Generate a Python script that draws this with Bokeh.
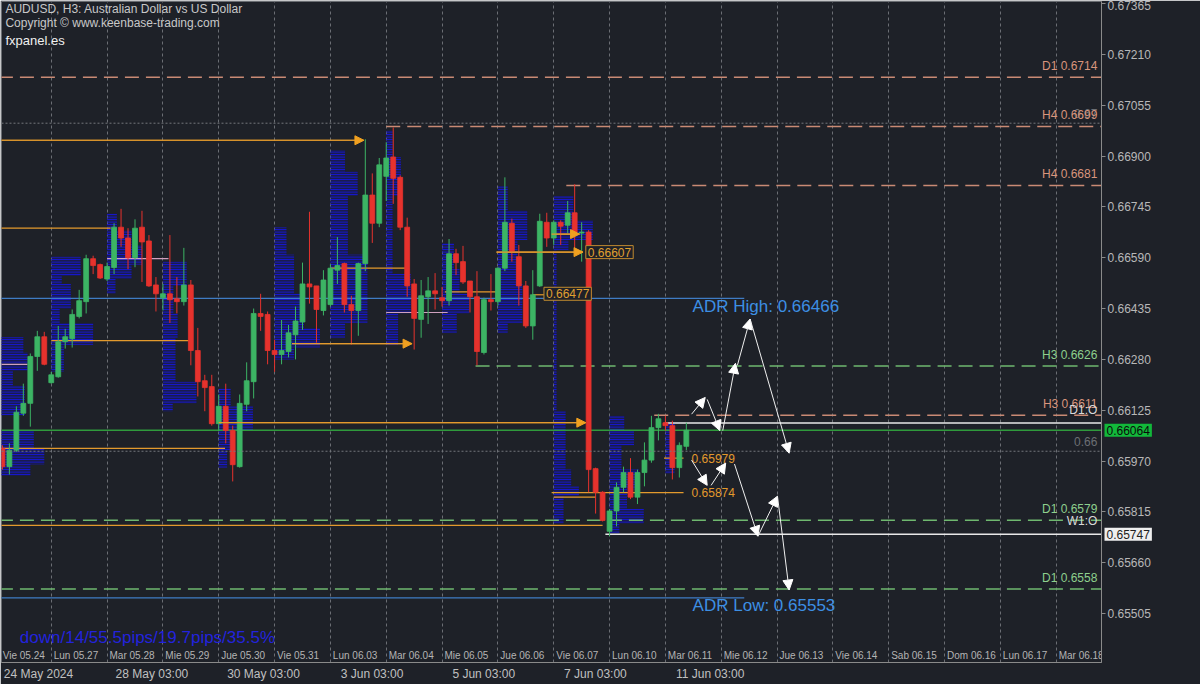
from bokeh.plotting import figure
from bokeh.models import (Range1d, FixedTicker, PrintfTickFormatter, Label, Arrow,
                          NormalHead, ColumnDataSource, Span)
from bokeh.core.properties import value
from bokeh.embed import file_html
from bokeh.resources import INLINE

FONT = value("Liberation Sans")
BG = "#1e2128"

# ---------------- data ----------------
bar_index = list(range(-7, 92))
opens = [0.66009, 0.65953, 0.66003, 0.66116, 0.66146, 0.66289, 0.66349,
         0.66209, 0.66227, 0.66334, 0.66343, 0.66411, 0.66456, 0.66587, 0.66569,
         0.66525, 0.66560, 0.66683, 0.66650, 0.66590, 0.66683, 0.66641, 0.66507,
         0.66468, 0.66480, 0.66465, 0.66456, 0.66507, 0.66307, 0.66215, 0.66197,
         0.66084, 0.66137, 0.66063, 0.65953, 0.66143, 0.66212, 0.66420, 0.66417,
         0.66307, 0.66295, 0.66304, 0.66355, 0.66394, 0.66510, 0.66504, 0.66429,
         0.66447, 0.66552, 0.66572, 0.66447, 0.66429, 0.66572, 0.66781, 0.66695,
         0.66838, 0.66897, 0.66835, 0.66683, 0.66510, 0.66402, 0.66471, 0.66489,
         0.66468, 0.66459, 0.66602, 0.66578, 0.66519, 0.66471, 0.66301, 0.66462,
         0.66456, 0.66558, 0.66695, 0.66593, 0.66504, 0.66382, 0.66504, 0.66698,
         0.66650, 0.66698, 0.66689, 0.66727, 0.66665, 0.66668, 0.65947, 0.65875,
         0.65756, 0.65818, 0.65890, 0.65935, 0.65860, 0.65935, 0.65973, 0.66072,
         0.66087, 0.66078, 0.65950, 0.66015]
highs = [0.66018, 0.66024, 0.66137, 0.66206, 0.66298, 0.66367, 0.66364,
         0.66242, 0.66382, 0.66373, 0.66432, 0.66492, 0.66599, 0.66596, 0.66572,
         0.66575, 0.66695, 0.66739, 0.66680, 0.66707, 0.66733, 0.66659, 0.66531,
         0.66510, 0.66659, 0.66531, 0.66620, 0.66522, 0.66376, 0.66233, 0.66233,
         0.66173, 0.66206, 0.66078, 0.66173, 0.66271, 0.66435, 0.66480, 0.66426,
         0.66340, 0.66400, 0.66385, 0.66441, 0.66575, 0.66730, 0.66504, 0.66552,
         0.66570, 0.66653, 0.66575, 0.66474, 0.66575, 0.66951, 0.66847, 0.66894,
         0.66942, 0.66987, 0.66841, 0.66712, 0.66525, 0.66522, 0.66531, 0.66543,
         0.66501, 0.66647, 0.66617, 0.66626, 0.66519, 0.66549, 0.66468, 0.66540,
         0.66561, 0.66835, 0.66709, 0.66629, 0.66519, 0.66552, 0.66724, 0.66727,
         0.66704, 0.66704, 0.66763, 0.66814, 0.66698, 0.66674, 0.65950, 0.65878,
         0.65824, 0.65905, 0.65953, 0.65979, 0.65944, 0.66027, 0.66108, 0.66114,
         0.66108, 0.66093, 0.66027, 0.66087]
lows = [0.65944, 0.65929, 0.65998, 0.66108, 0.66075, 0.66245, 0.66262,
        0.66206, 0.66224, 0.66313, 0.66316, 0.66405, 0.66420, 0.66540, 0.66525,
        0.66519, 0.66540, 0.66623, 0.66555, 0.66561, 0.66516, 0.66501, 0.66426,
        0.66429, 0.66391, 0.66420, 0.66444, 0.66262, 0.66167, 0.66122, 0.66078,
        0.66063, 0.66024, 0.65908, 0.65950, 0.66122, 0.66161, 0.66367, 0.66265,
        0.66242, 0.66265, 0.66286, 0.66280, 0.66370, 0.66450, 0.66331, 0.66414,
        0.66441, 0.66510, 0.66423, 0.66325, 0.66352, 0.66549, 0.66635, 0.66683,
        0.66763, 0.66754, 0.66674, 0.66471, 0.66310, 0.66346, 0.66388, 0.66432,
        0.66441, 0.66444, 0.66537, 0.66510, 0.66423, 0.66262, 0.66295, 0.66429,
        0.66444, 0.66549, 0.66578, 0.66444, 0.66376, 0.66340, 0.66501, 0.66623,
        0.66629, 0.66629, 0.66665, 0.66620, 0.66578, 0.65875, 0.65810, 0.65786,
        0.65741, 0.65771, 0.65875, 0.65854, 0.65839, 0.65893, 0.65965, 0.66033,
        0.66063, 0.65914, 0.65920, 0.66003]
closes = [0.65953, 0.66003, 0.66119, 0.66146, 0.66289, 0.66349, 0.66265,
          0.66233, 0.66334, 0.66349, 0.66417, 0.66459, 0.66587, 0.66566, 0.66528,
          0.66563, 0.66683, 0.66650, 0.66590, 0.66680, 0.66638, 0.66504, 0.66480,
          0.66480, 0.66462, 0.66456, 0.66507, 0.66307, 0.66212, 0.66194, 0.66084,
          0.66137, 0.66063, 0.65959, 0.66146, 0.66215, 0.66420, 0.66411, 0.66307,
          0.66295, 0.66307, 0.66361, 0.66397, 0.66510, 0.66501, 0.66432, 0.66522,
          0.66558, 0.66566, 0.66447, 0.66429, 0.66572, 0.66781, 0.66695, 0.66873,
          0.66894, 0.66832, 0.66683, 0.66504, 0.66405, 0.66474, 0.66489, 0.66480,
          0.66459, 0.66602, 0.66575, 0.66516, 0.66471, 0.66304, 0.66462, 0.66456,
          0.66558, 0.66698, 0.66608, 0.66504, 0.66382, 0.66477, 0.66701, 0.66650,
          0.66698, 0.66686, 0.66727, 0.66668, 0.66668, 0.65944, 0.65875, 0.65789,
          0.65818, 0.65890, 0.65935, 0.65860, 0.65935, 0.65973, 0.66072, 0.66099,
          0.66078, 0.65950, 0.66018, 0.66064]

day_starts = [-8, 0, 8, 16, 24, 32, 40, 48, 56, 64, 72, 80, 88, 96, 104,
              112, 120, 128, 136, 144]
day_labels = ["Vie 05.24", "Lun 05.27", "Mar 05.28", "Mie 05.29", "Jue 05.30",
              "Vie 05.31", "Lun 06.03", "Mar 06.04", "Mie 06.05", "Jue 06.06",
              "Vie 06.07", "Lun 06.10", "Mar 06.11", "Mie 06.12", "Jue 06.13",
              "Vie 06.14", "Sab 06.15", "Dom 06.16", "Lun 06.17", "Mar 06.18"]

time_tick_bars = [-6.8, 9, 25, 41, 57, 73, 89]
time_tick_labels = ["24 May 2024", "28 May 03:00", "30 May 03:00", "3 Jun 03:00",
                    "5 Jun 03:00", "7 Jun 03:00", "11 Jun 03:00"]

price_ticks = [0.67365, 0.67210, 0.67055, 0.66900, 0.66745, 0.66590, 0.66435,
               0.66280, 0.66125, 0.65970, 0.65815, 0.65660, 0.65505]

# volume profiles per day: (day start, price top, price bottom, length in bars)
prof_day = [-8, -8, -8, -8, -8, -8, -8,
            0, 0, 0, 0, 0, 0,
            8, 8, 8, 8, 8,
            16, 16, 16, 16, 16, 16,
            24, 24, 24, 24,
            32, 32, 32, 32, 32,
            40, 40, 40, 40, 40,
            48, 48, 48, 48, 48,
            56, 56, 56, 56,
            64, 64, 64, 64, 64,
            72, 72, 72, 72, 72, 72, 72, 72,
            80, 80, 80, 80, 80, 80, 80,
            88]
prof_top = [0.66348, 0.66300, 0.66245, 0.66200, 0.66063, 0.66010, 0.65960,
            0.66593, 0.66534, 0.66510, 0.66435, 0.66391, 0.66325,
            0.66724, 0.66674, 0.66629, 0.66569, 0.66525,
            0.66578, 0.66504, 0.66420, 0.66346, 0.66212, 0.66146,
            0.66191, 0.66137, 0.66063, 0.66003,
            0.66683, 0.66599, 0.66480, 0.66376, 0.66316,
            0.66918, 0.66852, 0.66778, 0.66599, 0.66391,
            0.66978, 0.66897, 0.66778, 0.66540, 0.66420,
            0.66635, 0.66555, 0.66480, 0.66420,
            0.66808, 0.66733, 0.66644, 0.66510, 0.66391,
            0.66778, 0.66704, 0.66644, 0.66614, 0.66122, 0.65944, 0.65893, 0.65863,
            0.66108, 0.66063, 0.66018, 0.65944, 0.65884, 0.65824, 0.65780,
            0.66084]
prof_bottom = [0.66300, 0.66245, 0.66200, 0.66110, 0.66010, 0.65960, 0.65925,
               0.66534, 0.66510, 0.66435, 0.66391, 0.66325, 0.66242,
               0.66674, 0.66629, 0.66569, 0.66525, 0.66480,
               0.66504, 0.66420, 0.66346, 0.66212, 0.66146, 0.66122,
               0.66137, 0.66063, 0.66003, 0.65950,
               0.66599, 0.66480, 0.66376, 0.66316, 0.66280,
               0.66852, 0.66778, 0.66599, 0.66391, 0.66346,
               0.66897, 0.66778, 0.66540, 0.66420, 0.66325,
               0.66555, 0.66480, 0.66420, 0.66361,
               0.66733, 0.66644, 0.66510, 0.66391, 0.66361,
               0.66704, 0.66644, 0.66614, 0.66122, 0.65944, 0.65893, 0.65863, 0.65780,
               0.66063, 0.66018, 0.65944, 0.65884, 0.65824, 0.65780, 0.65750,
               0.65932]
prof_len = [4.0, 4.6, 2.5, 4.2, 5.5, 7.0, 5.0,
            4.2, 1.5, 2.8, 1.2, 6.0, 1.8,
            1.4, 3.5, 5.0, 3.5, 1.2,
            3.4, 1.5, 2.1, 1.8, 4.8, 1.4,
            1.7, 4.9, 2.1, 1.2,
            1.7, 2.8, 4.2, 6.5, 2.8,
            2.1, 3.9, 2.5, 5.3, 2.1,
            0.9, 2.1, 0.9, 3.5, 1.7,
            1.7, 2.5, 3.9, 2.1,
            1.4, 4.2, 2.8, 3.5, 1.4,
            2.8, 5.6, 2.1, 0.4, 1.7, 2.5, 3.6, 1.4,
            2.1, 3.5, 1.7, 4.2, 2.5, 4.9, 1.4,
            1.3]

# pivot levels
level_names = ["D1 0.6714", "H4 0.6699", "H4 0.6681", "H3 0.6626",
               "H3 0.6611", "D1 0.6579", "D1 0.6558"]
level_prices = [0.6714, 0.6699, 0.6681, 0.6626, 0.6611, 0.6579, 0.6558]
level_from = [-7.5, 48.0, 73.8, 60.8, 86.4, -7.5, -7.5]
level_side = ["res", "res", "res", "sup", "res", "sup", "sup"]

bid_price = 0.66064
d1_open = 0.66086
w1_open = 0.65747
adr_high = 0.66466
adr_low = 0.65553
round_levels = [0.67, 0.66]
round_names = ["0.67", "0.66"]

# orange marker lines: start bar, end bar, price, arrow flag
orange_from = [-7.5, -7.5, 8.0, 0.0, -7.5, -7.5, 24.0, 40.0, 48.0, 34.5,
               56.4, 63.8, 71.7, 69.0, 71.7, 87.8, -7.5, 72.0]
orange_to = [44.8, 8.5, 16.8, 19.7, -3.4, 24.9, 76.6, 50.8, 56.8, 51.7,
             63.8, 76.2, 75.7, 70.6, 90.6, 90.6, 79.0, 78.0]
orange_price = [0.66948, 0.66680, 0.66587, 0.66337, 0.66265, 0.66009, 0.66087,
                0.66558, 0.66423, 0.66328, 0.66486, 0.66607, 0.66662, 0.66477,
                0.65874, 0.65979, 0.65774, 0.65860]
orange_arrow = [1, 0, 0, 0, 0, 0, 1, 0, 0, 1, 0, 1, 1, 0, 0, 0, 0, 0]
orange_tint = [0, 0, 1, 0, 1, 0, 0, 0, 1, 0, 0, 0, 0, 0, 0, 0, 0, 0]

# projected path arrows (white)
path_x0 = [91.75, 93.99, 96.22, 98.32, 100.14, 91.75, 94.55, 97.90, 101.26, 104.06]
path_y0 = [0.66113, 0.66158, 0.66063, 0.66262, 0.66403, 0.65973, 0.65896,
           0.65961, 0.65741, 0.65863]
path_x1 = [93.71, 95.80, 98.04, 100.14, 105.73, 93.99, 96.64, 101.26, 104.06, 105.73]
path_y1 = [0.66164, 0.66063, 0.66268, 0.66403, 0.65994, 0.65896, 0.65964,
           0.65741, 0.65863, 0.65577]

X0, X1 = -7.13, 150.49
Y0, Y1 = 0.65356, 0.67371
FRAME_W = 1100
PX_PER_BAR = FRAME_W / (X1 - X0)

# ---------------- figure ----------------
p = figure(frame_width=FRAME_W, frame_height=661,
           x_range=Range1d(X0, X1), y_range=Range1d(Y0, Y1),
           output_backend="svg", toolbar_location=None,
           y_axis_location="right",
           min_border_left=1, min_border_top=1, min_border_right=0,
           min_border_bottom=22,
           background_fill_color=BG, border_fill_color=BG)
p.outline_line_color = "#6a6d72"

# axes
yax = p.yaxis[0]
yax.ticker = FixedTicker(ticks=price_ticks)
yax.formatter = PrintfTickFormatter(format="%.5f")
yax.axis_line_color = "#8a8a8a"
yax.major_tick_line_color = "#8a8a8a"
yax.major_tick_out = 4
yax.major_tick_in = 0
yax.minor_tick_line_color = None
yax.major_label_text_color = "#b8b8b8"
yax.major_label_text_font = "Liberation Sans"
yax.major_label_text_font_size = "12px"
yax.major_label_standoff = 2

xax = p.xaxis[0]
centers = [round(b + len(t) * 6.3 / 2 / PX_PER_BAR, 2)
           for b, t in zip(time_tick_bars, time_tick_labels)]
xax.ticker = FixedTicker(ticks=centers)
xax.major_label_overrides = {c: t for c, t in zip(centers, time_tick_labels)}
xax.axis_line_color = "#8a8a8a"
xax.major_tick_line_color = None
xax.major_tick_out = 0
xax.major_tick_in = 0
xax.minor_tick_line_color = None
xax.major_label_text_color = "#c0c0c0"
xax.major_label_text_font = "Liberation Sans"
xax.major_label_text_font_size = "12px"
xax.major_label_standoff = 4

p.xgrid.ticker = FixedTicker(ticks=day_starts)
p.xgrid.grid_line_color = "#6b6e74"
p.xgrid.grid_line_dash = "3 3"
p.ygrid.visible = False

# round-number levels
for lv in round_levels:
    p.add_layout(Span(location=lv, dimension="width", line_color="#74777c",
                      line_dash="2 2", line_width=1))
p.text(x=[149.9] * 2, y=[lv + 0.00030 for lv in round_levels], text=round_names,
       text_font=FONT, text_font_size="12px", text_color="#6c6f74",
       text_align="right", text_baseline="middle")

# volume profiles (striped)
p.quad(left=prof_day, right=[d + l for d, l in zip(prof_day, prof_len)],
       top=prof_top, bottom=prof_bottom, fill_color="#1010b0", fill_alpha=0.3,
       hatch_pattern="horizontal_line", hatch_color="#1616d8", hatch_weight=1.2,
       hatch_scale=2.5, line_color=None)

# ADR lines
p.segment(x0=[-7.5, -7.5], y0=[adr_high, adr_low], x1=[99.3, 99.3], y1=[adr_high, adr_low],
          line_color="#3f7cc4", line_width=1.2)

# pivot level lines
res_col, sup_col = "#c98a74", "#6fb86f"
lcol = [res_col if s == "res" else sup_col for s in level_side]
p.segment(x0=level_from, y0=level_prices, x1=[X1] * len(level_prices), y1=level_prices,
          line_color=lcol, line_dash="14 7", line_width=1.5)
p.text(x=[149.9] * len(level_names), y=[v + 0.00013 for v in level_prices], text=level_names,
       text_font=FONT, text_font_size="12px",
       text_color=["#d9957d" if s == "res" else "#8ed08e" for s in level_side],
       text_align="right", text_baseline="bottom")

# bid, D1 open, W1 open
p.segment(x0=[-7.5], y0=[bid_price], x1=[X1], y1=[bid_price], line_color="#2f9a3c", line_width=1.3)
p.segment(x0=[87.9, 79.4], y0=[d1_open, w1_open], x1=[X1, X1], y1=[d1_open, w1_open],
          line_color="#e8e8e8", line_width=1.5)
p.text(x=[149.9, 149.9], y=[d1_open + 0.00018, w1_open + 0.00018], text=["D1:O", "W1:O"],
       text_font=FONT, text_font_size="12px", text_color="#d8d8d8",
       text_align="right", text_baseline="bottom")

# orange lines
ocol = ["#cfa0bf" if t else "#e39a2d" for t in orange_tint]
p.segment(x0=orange_from, y0=orange_price, x1=orange_to, y1=orange_price,
          line_color=ocol, line_width=1.2)
asrc = ColumnDataSource(dict(
    x0=[a for a, f in zip(orange_from, orange_arrow) if f],
    x1=[b for b, f in zip(orange_to, orange_arrow) if f],
    y=[c for c, f in zip(orange_price, orange_arrow) if f]))
p.add_layout(Arrow(x_start="x0", y_start="y", x_end="x1", y_end="y", source=asrc,
                   line_color="#e39a2d", line_width=1.2,
                   end=NormalHead(size=9, fill_color="#f0a020", line_color="#f0a020")))

# candles
up = [c >= o for o, c in zip(opens, closes)]
ccol = ["#3cb464" if u else "#e6322d" for u in up]
src = ColumnDataSource(dict(x=bar_index, o=opens, h=highs, l=lows, c=closes,
                            top=[max(o, c) for o, c in zip(opens, closes)],
                            bot=[min(o, c) for o, c in zip(opens, closes)], col=ccol))
p.segment(x0="x", y0="l", x1="x", y1="h", source=src, line_color="col", line_width=1)
p.vbar(x="x", width=0.7, top="top", bottom="bot", source=src,
       fill_color="col", line_color="col", line_width=0.8)

# boxed price tags
for xb, yv, txt in [(76.6, 0.66607, "0.66607"), (70.6, 0.66480, "0.66477")]:
    p.add_layout(Label(x=xb, y=yv, text=txt, text_font="Liberation Sans",
                       text_font_size="12px", text_color="#e0a030",
                       text_baseline="middle", text_align="left",
                       background_fill_color=BG, border_line_color="#c08a30",
                       border_line_width=1, padding=2))

# projection labels
p.text(x=[91.75, 91.75], y=[0.65979, 0.65874], text=["0.65979", "0.65874"],
       text_font=FONT, text_font_size="12px", text_color="#e39a2d",
       text_align="left", text_baseline="middle")

# white projected path
psrc = ColumnDataSource(dict(x0=path_x0, y0=path_y0, x1=path_x1, y1=path_y1))
p.add_layout(Arrow(x_start="x0", y_start="y0", x_end="x1", y_end="y1", source=psrc,
                   line_color="#f0f0f0", line_width=1,
                   end=NormalHead(size=10, fill_color="#ffffff", line_color="#ffffff")))

# ADR texts
p.text(x=[91.9, 91.9], y=[0.66441, 0.65531], text=["ADR High: 0.66466", "ADR Low: 0.65553"],
       text_font=FONT, text_font_size="17px", text_color="#3d8fe4",
       text_align="left", text_baseline="middle")

# bottom-left statistic text
p.text(x=[-4.5], y=[0.65431], text=["down/14/55.5pips/19.7pips/35.5%"],
       text_font=FONT, text_font_size="17px", text_color="#2323dc",
       text_align="left", text_baseline="middle")

# day labels row
p.text(x=[max(d + 0.35, -6.95) for d in day_starts], y=[0.65377] * len(day_starts),
       text=day_labels, text_font=FONT, text_font_size="10px", text_color="#b4b4b4",
       text_align="left", text_baseline="middle")

# header texts
p.text(x=[-6.57, -6.57], y=[0.67347, 0.67305],
       text=["AUDUSD, H3:  Australian Dollar vs US Dollar",
             "Copyright \u00a9 www.keenbase-trading.com"],
       text_font=FONT, text_font_size="12px", text_color="#c8c8c8",
       text_align="left", text_baseline="middle")
p.text(x=[-6.57], y=[0.67252], text=["fxpanel.es"],
       text_font=FONT, text_font_size="13px", text_color="#f0f0f0",
       text_align="left", text_baseline="middle")

# price tags on the price axis (placed in the right side panel so they are not clipped)
for yv, txt, bgc, fg in [(bid_price, "0.66064", "#12b83a", "#0a0a0a"),
                         (w1_open, "0.65747", "#eeeeee", "#202020")]:
    p.add_layout(Label(x=FRAME_W + 4, x_units="canvas", y=yv, text=txt,
                       text_font="Liberation Sans", text_font_size="12px",
                       text_color=fg, text_baseline="middle", text_align="left",
                       background_fill_color=bgc, padding=2), "right")

open("out.html", "w").write(file_html(p, INLINE))
